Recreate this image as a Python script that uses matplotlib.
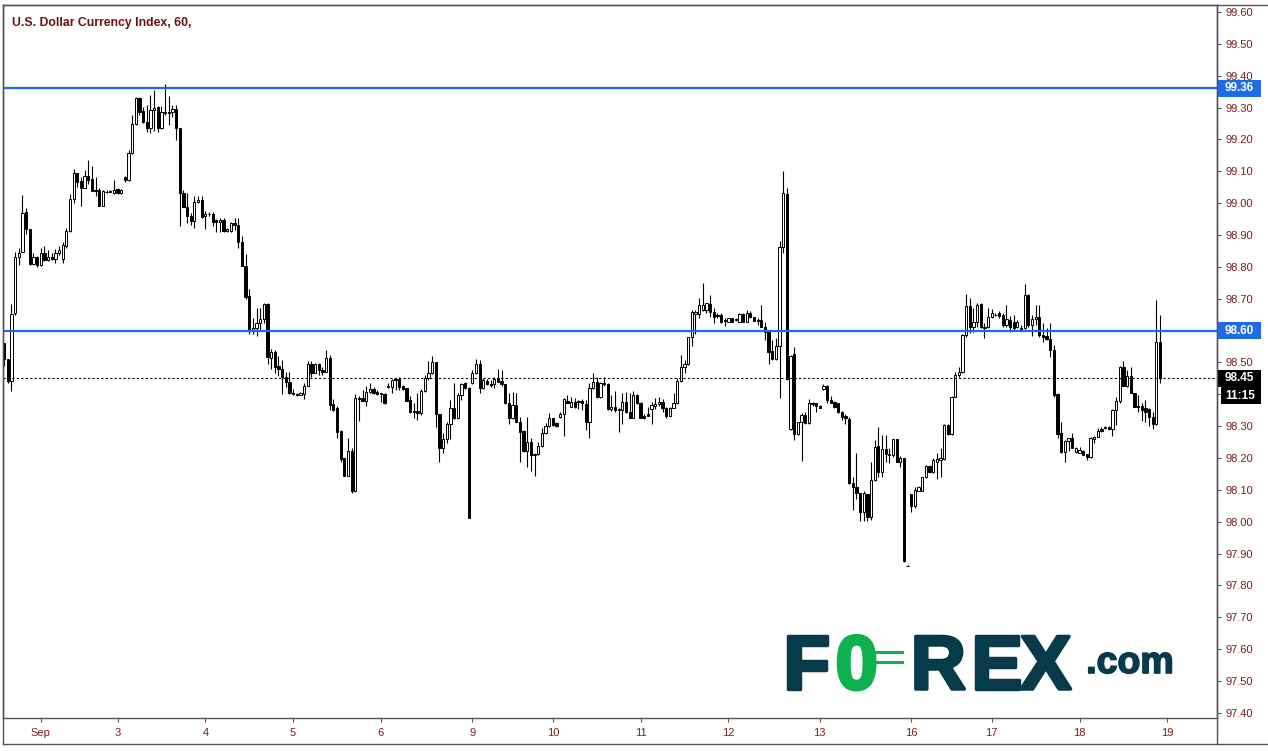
import numpy as np
import matplotlib
matplotlib.use('Agg')
import matplotlib.pyplot as plt
import matplotlib.transforms as mtransforms
import matplotlib.patheffects as pe
from matplotlib.patches import Rectangle
from matplotlib.lines import Line2D

# hourly OHLC, U.S. Dollar Currency Index
opens = [98.560, 98.510, 98.443, 98.654, 98.832, 98.846, 98.972, 98.918, 98.808, 98.830,
         98.806, 98.843, 98.822, 98.832, 98.824, 98.845, 98.824, 98.866, 98.913, 99.012,
         99.094, 99.070, 99.049, 99.086, 99.075, 99.040, 99.042, 98.992, 99.036, 99.038,
         99.031, 99.046, 99.031, 99.081, 99.073, 99.157, 99.248, 99.329, 99.290, 99.256,
         99.237, 99.293, 99.303, 99.235, 99.283, 99.285, 99.285, 99.296, 99.235, 99.033,
         98.987, 98.960, 98.945, 99.003, 99.010, 98.960, 98.965, 98.966, 98.947, 98.940,
         98.947, 98.913, 98.913, 98.939, 98.930, 98.877, 98.804, 98.708, 98.599, 98.609,
         98.623, 98.636, 98.684, 98.513, 98.534, 98.489, 98.479, 98.453, 98.440, 98.403,
         98.400, 98.399, 98.401, 98.427, 98.495, 98.468, 98.495, 98.476, 98.471, 98.513,
         98.370, 98.356, 98.286, 98.199, 98.145, 98.222, 98.095, 98.384, 98.390, 98.380,
         98.406, 98.417, 98.406, 98.403, 98.400, 98.422, 98.424, 98.445, 98.448, 98.426,
         98.419, 98.382, 98.348, 98.348, 98.340, 98.411, 98.450, 98.466, 98.501, 98.337,
         98.231, 98.259, 98.306, 98.356, 98.325, 98.398, 98.434, 98.419, 98.434, 98.466,
         98.494, 98.419, 98.442, 98.431, 98.431, 98.450, 98.442, 98.431, 98.372, 98.325,
         98.367, 98.314, 98.285, 98.222, 98.249, 98.208, 98.212, 98.238, 98.280, 98.301,
         98.325, 98.311, 98.330, 98.338, 98.380, 98.361, 98.377, 98.379, 98.379, 98.369,
         98.312, 98.419, 98.440, 98.391, 98.434, 98.431, 98.354, 98.361, 98.351, 98.351,
         98.375, 98.343, 98.327, 98.398, 98.372, 98.332, 98.338, 98.353, 98.364, 98.369,
         98.375, 98.358, 98.333, 98.358, 98.372, 98.442, 98.487, 98.494, 98.579, 98.651,
         98.651, 98.665, 98.665, 98.684, 98.657, 98.649, 98.649, 98.633, 98.628, 98.639,
         98.635, 98.628, 98.651, 98.628, 98.654, 98.642, 98.633, 98.633, 98.612, 98.595,
         98.536, 98.511, 98.553, 98.861, 99.028, 98.291, 98.526, 98.275, 98.312, 98.335,
         98.309, 98.372, 98.372, 98.363, 98.416, 98.426, 98.382, 98.377, 98.372, 98.346,
         98.333, 98.322, 98.121, 98.110, 98.089, 98.032, 98.086, 98.016, 98.131, 98.238,
         98.155, 98.227, 98.213, 98.210, 98.259, 98.189, 98.199, 97.862, 98.086, 98.051,
         98.098, 98.098, 98.139, 98.176, 98.155, 98.189, 98.194, 98.196, 98.304, 98.275,
         98.393, 98.461, 98.469, 98.586, 98.677, 98.610, 98.626, 98.684, 98.611, 98.610,
         98.642, 98.650, 98.654, 98.649, 98.618, 98.633, 98.628, 98.610, 98.607, 98.607,
         98.712, 98.618, 98.636, 98.644, 98.586, 98.583, 98.573, 98.539, 98.401, 98.278,
         98.218, 98.254, 98.262, 98.220, 98.217, 98.223, 98.212, 98.202, 98.259, 98.267,
         98.291, 98.293, 98.299, 98.290, 98.351, 98.379, 98.485, 98.427, 98.459, 98.403,
         98.363, 98.363, 98.356, 98.353, 98.330, 98.307, 98.564]

highs = [98.562, 98.512, 98.684, 98.846, 98.858, 99.026, 98.984, 98.920, 98.843, 98.835,
         98.858, 98.866, 98.853, 98.845, 98.855, 98.866, 98.879, 98.923, 99.029, 99.106,
         99.096, 99.083, 99.104, 99.136, 99.117, 99.083, 99.047, 99.041, 99.042, 99.042,
         99.073, 99.048, 99.044, 99.085, 99.167, 99.277, 99.332, 99.332, 99.303, 99.308,
         99.338, 99.355, 99.305, 99.305, 99.374, 99.335, 99.308, 99.308, 99.237, 99.042,
         99.031, 98.968, 99.021, 99.021, 99.021, 98.976, 98.973, 98.973, 98.950, 98.953,
         98.953, 98.921, 98.942, 98.953, 98.953, 98.898, 98.840, 98.730, 98.641, 98.672,
         98.672, 98.688, 98.686, 98.542, 98.539, 98.520, 98.508, 98.469, 98.471, 98.417,
         98.403, 98.408, 98.434, 98.505, 98.505, 98.497, 98.497, 98.487, 98.539, 98.524,
         98.384, 98.364, 98.288, 98.201, 98.262, 98.231, 98.400, 98.395, 98.414, 98.426,
         98.434, 98.422, 98.414, 98.405, 98.403, 98.434, 98.449, 98.452, 98.453, 98.428,
         98.421, 98.396, 98.372, 98.403, 98.416, 98.461, 98.505, 98.520, 98.503, 98.339,
         98.278, 98.314, 98.382, 98.434, 98.403, 98.434, 98.440, 98.424, 98.476, 98.511,
         98.508, 98.450, 98.448, 98.445, 98.455, 98.479, 98.476, 98.433, 98.403, 98.406,
         98.403, 98.330, 98.288, 98.330, 98.262, 98.215, 98.249, 98.293, 98.309, 98.340,
         98.327, 98.314, 98.346, 98.387, 98.398, 98.393, 98.390, 98.382, 98.384, 98.382,
         98.437, 98.466, 98.455, 98.440, 98.455, 98.434, 98.398, 98.411, 98.358, 98.405,
         98.408, 98.405, 98.411, 98.400, 98.377, 98.337, 98.359, 98.375, 98.388, 98.391,
         98.385, 98.360, 98.361, 98.403, 98.450, 98.523, 98.508, 98.581, 98.665, 98.665,
         98.701, 98.748, 98.688, 98.712, 98.670, 98.654, 98.654, 98.639, 98.641, 98.641,
         98.639, 98.654, 98.654, 98.665, 98.660, 98.644, 98.641, 98.681, 98.628, 98.602,
         98.571, 98.576, 98.881, 99.101, 99.047, 98.523, 98.550, 98.314, 98.340, 98.346,
         98.385, 98.377, 98.374, 98.365, 98.431, 98.429, 98.395, 98.380, 98.374, 98.348,
         98.338, 98.330, 98.141, 98.215, 98.091, 98.095, 98.088, 98.189, 98.257, 98.299,
         98.272, 98.272, 98.231, 98.261, 98.261, 98.207, 98.201, 97.863, 98.088, 98.110,
         98.113, 98.141, 98.178, 98.178, 98.199, 98.217, 98.231, 98.307, 98.307, 98.395,
         98.471, 98.485, 98.588, 98.715, 98.701, 98.670, 98.686, 98.686, 98.623, 98.670,
         98.667, 98.656, 98.660, 98.656, 98.681, 98.646, 98.649, 98.633, 98.618, 98.746,
         98.714, 98.649, 98.681, 98.681, 98.623, 98.609, 98.625, 98.555, 98.403, 98.314,
         98.256, 98.264, 98.278, 98.236, 98.236, 98.225, 98.213, 98.267, 98.269, 98.295,
         98.299, 98.302, 98.301, 98.353, 98.391, 98.489, 98.505, 98.476, 98.485, 98.405,
         98.398, 98.372, 98.382, 98.356, 98.346, 98.696, 98.649]

lows = [98.489, 98.435, 98.412, 98.650, 98.806, 98.846, 98.903, 98.806, 98.805, 98.801,
        98.803, 98.819, 98.819, 98.822, 98.811, 98.838, 98.811, 98.858, 98.909, 99.000,
        99.052, 98.992, 99.068, 99.059, 99.037, 99.021, 98.990, 98.990, 99.031, 99.034,
        99.029, 99.028, 99.029, 99.068, 99.071, 99.155, 99.246, 99.277, 99.253, 99.222,
        99.219, 99.225, 99.222, 99.233, 99.277, 99.244, 99.270, 99.199, 98.929, 98.987,
        98.937, 98.932, 98.923, 99.000, 98.953, 98.920, 98.960, 98.927, 98.909, 98.909,
        98.909, 98.909, 98.911, 98.916, 98.858, 98.802, 98.699, 98.588, 98.588, 98.584,
        98.602, 98.625, 98.494, 98.479, 98.466, 98.458, 98.400, 98.424, 98.401, 98.398,
        98.396, 98.397, 98.385, 98.425, 98.453, 98.466, 98.461, 98.461, 98.469, 98.351,
        98.349, 98.262, 98.189, 98.143, 98.143, 98.089, 98.093, 98.317, 98.378, 98.364,
        98.403, 98.400, 98.398, 98.377, 98.370, 98.420, 98.405, 98.414, 98.414, 98.414,
        98.378, 98.340, 98.325, 98.319, 98.335, 98.408, 98.445, 98.464, 98.299, 98.189,
        98.215, 98.246, 98.259, 98.323, 98.323, 98.382, 98.417, 98.013, 98.432, 98.464,
        98.405, 98.417, 98.429, 98.422, 98.419, 98.438, 98.426, 98.370, 98.306, 98.322,
        98.312, 98.189, 98.220, 98.173, 98.160, 98.145, 98.210, 98.236, 98.274, 98.299,
        98.302, 98.299, 98.325, 98.270, 98.372, 98.359, 98.358, 98.353, 98.351, 98.288,
        98.262, 98.417, 98.389, 98.389, 98.426, 98.351, 98.349, 98.346, 98.281, 98.307,
        98.341, 98.325, 98.325, 98.370, 98.325, 98.323, 98.331, 98.307, 98.354, 98.363,
        98.343, 98.325, 98.331, 98.356, 98.370, 98.440, 98.468, 98.492, 98.553, 98.588,
        98.639, 98.663, 98.654, 98.644, 98.623, 98.639, 98.623, 98.616, 98.626, 98.626,
        98.630, 98.626, 98.626, 98.626, 98.639, 98.629, 98.618, 98.610, 98.571, 98.494,
        98.509, 98.508, 98.388, 98.844, 98.446, 98.288, 98.257, 98.273, 98.191, 98.307,
        98.307, 98.363, 98.343, 98.356, 98.414, 98.374, 98.372, 98.358, 98.341, 98.319,
        98.307, 98.119, 98.037, 98.070, 98.003, 98.003, 98.003, 98.005, 98.129, 98.141,
        98.141, 98.189, 98.183, 98.202, 98.187, 98.171, 97.875, 97.860, 98.030, 98.044,
        98.096, 98.096, 98.137, 98.153, 98.153, 98.134, 98.141, 98.194, 98.273, 98.273,
        98.391, 98.455, 98.467, 98.581, 98.591, 98.595, 98.610, 98.608, 98.576, 98.608,
        98.639, 98.646, 98.641, 98.612, 98.610, 98.597, 98.602, 98.607, 98.602, 98.605,
        98.612, 98.583, 98.618, 98.581, 98.565, 98.571, 98.518, 98.393, 98.262, 98.216,
        98.189, 98.222, 98.230, 98.215, 98.215, 98.208, 98.194, 98.200, 98.246, 98.265,
        98.283, 98.291, 98.288, 98.269, 98.304, 98.372, 98.425, 98.424, 98.403, 98.359,
        98.346, 98.317, 98.314, 98.301, 98.290, 98.305, 98.434]

closes = [98.510, 98.443, 98.652, 98.832, 98.845, 98.970, 98.918, 98.808, 98.832, 98.806,
          98.843, 98.822, 98.832, 98.824, 98.845, 98.853, 98.869, 98.913, 99.012, 99.094,
          99.068, 99.049, 99.086, 99.073, 99.039, 99.038, 98.992, 99.039, 99.034, 99.036,
          99.042, 99.031, 99.042, 99.073, 99.157, 99.248, 99.329, 99.285, 99.256, 99.237,
          99.293, 99.298, 99.235, 99.285, 99.285, 99.283, 99.296, 99.235, 99.033, 98.989,
          98.960, 98.945, 99.003, 99.010, 98.958, 98.965, 98.967, 98.942, 98.940, 98.947,
          98.913, 98.919, 98.937, 98.930, 98.877, 98.804, 98.707, 98.599, 98.609, 98.625,
          98.636, 98.684, 98.516, 98.534, 98.487, 98.479, 98.453, 98.440, 98.403, 98.400,
          98.398, 98.403, 98.427, 98.495, 98.468, 98.495, 98.476, 98.471, 98.513, 98.367,
          98.351, 98.283, 98.197, 98.145, 98.222, 98.095, 98.390, 98.390, 98.380, 98.406,
          98.417, 98.403, 98.400, 98.400, 98.374, 98.426, 98.445, 98.448, 98.424, 98.416,
          98.380, 98.343, 98.343, 98.340, 98.411, 98.450, 98.466, 98.501, 98.337, 98.231,
          98.259, 98.306, 98.356, 98.325, 98.398, 98.431, 98.419, 98.013, 98.466, 98.494,
          98.419, 98.445, 98.431, 98.429, 98.448, 98.440, 98.431, 98.372, 98.325, 98.367,
          98.314, 98.283, 98.222, 98.249, 98.208, 98.212, 98.238, 98.280, 98.301, 98.325,
          98.304, 98.301, 98.338, 98.385, 98.374, 98.377, 98.361, 98.377, 98.372, 98.312,
          98.419, 98.440, 98.391, 98.434, 98.431, 98.354, 98.361, 98.351, 98.353, 98.375,
          98.343, 98.327, 98.398, 98.372, 98.327, 98.325, 98.333, 98.367, 98.370, 98.377,
          98.356, 98.333, 98.358, 98.372, 98.442, 98.487, 98.494, 98.579, 98.657, 98.657,
          98.681, 98.681, 98.686, 98.657, 98.644, 98.646, 98.628, 98.631, 98.639, 98.628,
          98.633, 98.651, 98.628, 98.654, 98.642, 98.631, 98.630, 98.612, 98.595, 98.532,
          98.511, 98.553, 98.861, 99.031, 98.448, 98.521, 98.275, 98.312, 98.335, 98.309,
          98.374, 98.370, 98.363, 98.358, 98.426, 98.382, 98.374, 98.361, 98.343, 98.328,
          98.327, 98.121, 98.108, 98.089, 98.032, 98.089, 98.016, 98.131, 98.236, 98.155,
          98.227, 98.212, 98.210, 98.259, 98.189, 98.199, 97.877, 97.861, 98.051, 98.100,
          98.110, 98.139, 98.176, 98.155, 98.194, 98.196, 98.199, 98.304, 98.275, 98.393,
          98.461, 98.469, 98.586, 98.677, 98.610, 98.626, 98.681, 98.610, 98.609, 98.642,
          98.654, 98.648, 98.646, 98.618, 98.636, 98.610, 98.607, 98.628, 98.605, 98.712,
          98.618, 98.637, 98.644, 98.586, 98.581, 98.573, 98.539, 98.398, 98.276, 98.218,
          98.254, 98.262, 98.233, 98.230, 98.225, 98.210, 98.202, 98.262, 98.267, 98.286,
          98.286, 98.299, 98.290, 98.351, 98.379, 98.485, 98.427, 98.459, 98.405, 98.361,
          98.359, 98.351, 98.346, 98.330, 98.307, 98.564, 98.450]

day_ticks = [10, 31, 55, 79, 103, 128, 150, 174, 198, 223, 248, 270, 294, 318]
day_labels = ['Sep', '3', '4', '5', '6', '9', '10', '11', '12', '13', '16', '17', '18', '19']

levels = [99.36, 98.60]
last_price = 98.45
countdown = '11:15'
title = 'U.S. Dollar Currency Index, 60,'

red = '#7d1c1c'
blue = '#1f6be6'
frame = '#555555'

plt.rcParams['font.family'] = ['Liberation Sans', 'DejaVu Sans']

W, H = 1268, 751
fig = plt.figure(figsize=(W / 100, H / 100), dpi=100)
ax = fig.add_axes([2.7 / W, 1 - 717.7 / H, (1216.7 - 2.7) / W, (717.7 - 5) / H])

o = np.array(opens)
hi = np.array(highs)
lo = np.array(lows)
c = np.array(closes)
x = np.arange(len(o))
up = c >= o

ax.vlines(x, lo, hi, color='black', lw=0.8, zorder=2)
ax.bar(x, np.maximum(np.abs(c - o), 0.0015), bottom=np.minimum(o, c), width=0.62,
       color=np.where(up, 'white', 'black'), edgecolor='black', linewidth=0.7, zorder=3)

for lv in levels:
    ax.axhline(lv, color=blue, lw=1.6, zorder=4)
ax.axhline(last_price, color='black', lw=0.8, ls=(0, (2, 2)), zorder=4)

ax.set_xlim(-0.4, 331.5)
ax.set_ylim(97.385, 99.622)

ax.yaxis.tick_right()
yt = np.arange(97.4, 99.61, 0.1)
ax.set_yticks(yt)
ax.set_yticklabels(['%.2f' % v for v in yt])
ax.tick_params(axis='y', direction='out', length=3, width=0.8, color=frame,
               labelcolor=red, labelsize=8, pad=3.5)
ax.set_xticks(day_ticks)
ax.set_xticklabels(day_labels)
ax.tick_params(axis='x', direction='out', length=3, width=0.8, color=frame,
               labelcolor=red, labelsize=8, pad=4.5)
for s in ax.spines.values():
    s.set_color(frame)
    s.set_linewidth(1.0)

# price tags on the right scale
tr = mtransforms.blended_transform_factory(ax.transAxes, ax.transData)
axw = 1216.7 - 2.7
ppu = 318.6  # pixels per 1.0 price

def tag(y, text, color, x0=1216.7, x1=1261, hpx=17, dy=0.0):
    ax.add_patch(Rectangle(((x0 - 2.7) / axw, y - dy - hpx / 2 / ppu), (x1 - x0) / axw, hpx / ppu,
                           transform=tr, facecolor=color, edgecolor='none', clip_on=False, zorder=6))
    ax.text((1225 - 2.7) / axw, y - dy, text, transform=tr, ha='left', va='center',
            color='white', fontsize=8.5, fontweight='bold', clip_on=False, zorder=7)

for lv in levels:
    tag(lv, '%.2f' % lv, blue)
tag(last_price, '%.2f' % last_price, 'black')
tag(last_price, countdown, 'black', x0=1221, dy=17.5 / ppu)

# outer frame
def fline(x0, y0, x1, y1):
    fig.add_artist(Line2D([x0 / W, x1 / W], [1 - y0 / H, 1 - y1 / H], color=frame, lw=1.0))

fline(2.7, 5, 1268, 5)
fline(2.7, 5, 2.7, 744)
fline(1216.7, 5, 1216.7, 744)
fline(2.7, 744, 1268, 744)

fig.text(11.7 / W, 1 - 22.7 / H, title, ha='left', va='center', fontsize=8.8,
         fontweight='bold', color='#6b1111')

# FOREX.com logo
teal = '#073b4c'
green = '#0fb04e'
logo = [('F', 806.7, teal), ('0', 856.7, green), ('R', 938.3, teal),
        ('E', 996.7, teal), ('X', 1045.8, teal)]
for ch, cx, col in logo:
    fig.text(cx / W, 1 - 689 / H, ch, ha='center', va='baseline', fontsize=55,
             fontweight='bold', color=col, family='Liberation Sans',
             path_effects=[pe.withStroke(linewidth=2.5, foreground=col)])
for yy in (652, 662):
    fig.add_artist(Line2D([866 / W, 902 / W], [1 - yy / H, 1 - yy / H], color=green, lw=2.2))
fig.text(1130 / W, 1 - 673 / H, '.com', ha='center', va='baseline', fontsize=27,
         fontweight='bold', color=teal, family='Liberation Sans',
         path_effects=[pe.withStroke(linewidth=1.2, foreground=teal)])

fig.savefig('out.png', dpi=100, facecolor='white')
